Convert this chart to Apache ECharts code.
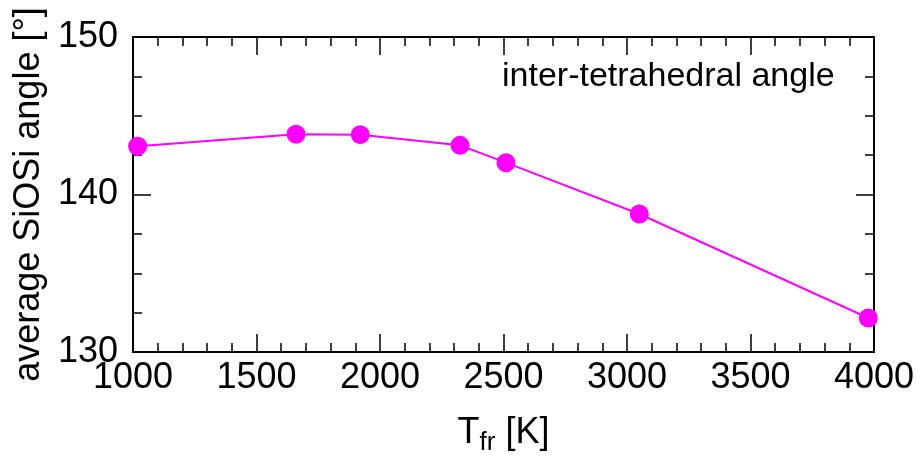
<!DOCTYPE html>
<html>
<head>
<meta charset="utf-8">
<script src="https://cdn.jsdelivr.net/npm/echarts@6/dist/echarts.min.js"></script>
<style>html,body{margin:0;padding:0;background:#fff}#chart{width:921px;height:462px}</style>
</head>
<body>
<div id="chart"></div>
<script>
var temperatures = [1019, 1660, 1920, 2324, 2510, 3050, 3977];
var angles = [143.06, 143.82, 143.8, 143.12, 142.02, 138.76, 132.16];
var xTicks = [1000, 1500, 2000, 2500, 3000, 3500, 4000];
var yTicks = [130, 140, 150];
var annotation = 'inter-tetrahedral angle';
var yTitle = 'average SiOSi angle [°]';

var FONT = '"Liberation Sans", Arial, sans-serif';
var points = temperatures.map(function (t, i) { return [t, angles[i]]; });

var common = {
  axisLine: { show: true, lineStyle: { color: '#000', width: 2 } },
  axisTick: { show: true, inside: true, length: 18, lineStyle: { color: '#000', width: 1.5 } },
  minorTick: { show: true, length: 9, lineStyle: { color: '#000', width: 1.5 } },
  splitLine: { show: false }
};
function ax(extra) { return Object.assign({}, JSON.parse(JSON.stringify(common)), extra); }
function plain(v) { return String(v); }

var chart = echarts.init(document.getElementById('chart'), null, { renderer: 'canvas' });
chart.setOption({
  animation: false,
  backgroundColor: '#fff',
  grid: { left: 133, right: 47, top: 37, bottom: 110 },
  xAxis: [
    ax({
      type: 'value', position: 'bottom', min: xTicks[0], max: xTicks[xTicks.length - 1], interval: 500,
      minorTick: Object.assign({}, common.minorTick, { splitNumber: 5 }),
      axisLabel: { color: '#000', fontSize: 36, fontFamily: FONT, margin: 8, formatter: plain },
      name: '{t|T}{s|fr}{t| [K]}', nameLocation: 'middle', nameGap: 58,
      nameTextStyle: {
        rich: {
          t: { fontSize: 36, fontFamily: FONT, color: '#000' },
          s: { fontSize: 26, fontFamily: FONT, color: '#000', verticalAlign: 'bottom', padding: [20, 0, 0, 0] }
        }
      }
    }),
    ax({
      type: 'value', position: 'top', min: xTicks[0], max: xTicks[xTicks.length - 1], interval: 500,
      minorTick: Object.assign({}, common.minorTick, { splitNumber: 5 }),
      axisLabel: { show: false }
    })
  ],
  yAxis: [
    ax({
      type: 'value', position: 'left', min: yTicks[0], max: yTicks[yTicks.length - 1], interval: 10,
      minorTick: Object.assign({}, common.minorTick, { splitNumber: 4 }),
      axisLabel: { color: '#000', fontSize: 36, fontFamily: FONT, margin: 15, formatter: plain },
      name: yTitle, nameLocation: 'middle', nameRotate: 90, nameGap: 86,
      nameTextStyle: { color: '#000', fontSize: 36, fontFamily: FONT }
    }),
    ax({
      type: 'value', position: 'right', min: yTicks[0], max: yTicks[yTicks.length - 1], interval: 10,
      minorTick: Object.assign({}, common.minorTick, { splitNumber: 4 }),
      axisLabel: { show: false }
    })
  ],
  graphic: [{
    type: 'text', left: 502, top: 60,
    style: { text: annotation, fill: '#000', font: '34px ' + FONT }
  }],
  series: [{
    type: 'line', data: points, xAxisIndex: 0, yAxisIndex: 0,
    symbol: 'circle', symbolSize: 19,
    itemStyle: { color: '#ff00ff' },
    lineStyle: { color: '#ff00ff', width: 2 }
  }]
});
</script>
</body>
</html>
